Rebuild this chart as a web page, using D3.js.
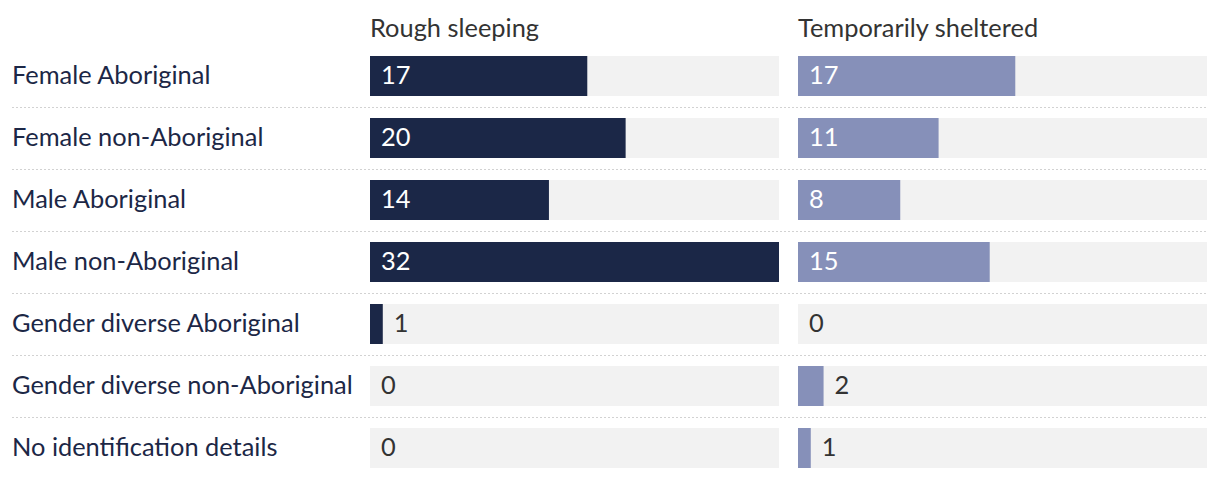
<!DOCTYPE html>
<html><head><meta charset="utf-8">
<script src="https://cdn.jsdelivr.net/npm/d3@7"></script>
<style>
html,body{margin:0;padding:0;background:#fff;}
text{font-family:Lato,"Noto Sans",sans-serif;}
</style></head>
<body>
<svg id="chart" width="1220" height="478"></svg>
<script>
const categories = ["Female Aboriginal","Female non-Aboriginal","Male Aboriginal","Male non-Aboriginal","Gender diverse Aboriginal","Gender diverse non-Aboriginal","No identification details"];
const seriesNames = ["Rough sleeping","Temporarily sheltered"];
const roughSleeping = [17,20,14,32,1,0,0];
const temporarilySheltered = [17,11,8,15,0,2,1];
const seriesValues = [roughSleeping, temporarilySheltered];
const seriesColors = ["#1b2747","#8690b9"];

const svg = d3.select("#chart");
const fontSize = 25.4;
const panelX = [370, 798];
const panelW = 409;
const step = 62, bh = 40, topY = 56;
const y = d3.scaleBand().domain(categories)
  .range([topY - (step-bh)/2, topY - (step-bh)/2 + step*categories.length])
  .paddingInner((step-bh)/step).paddingOuter((step-bh)/step/2);
const x = d3.scaleLinear().domain([0, 32]).range([0, panelW]);

// separators
categories.slice(0, -1).forEach(c => {
  const yy = y(c) + bh + (step-bh)/2 + 0.5;
  svg.append("line").attr("x1",12).attr("x2",1207)
    .attr("y1", yy).attr("y2", yy)
    .attr("stroke","#d2d2d2").attr("stroke-width",1.2).attr("stroke-dasharray","2,2");
});

// category labels
svg.selectAll("text.cat").data(categories).enter().append("text")
  .attr("class","cat").attr("x",12).attr("y",d=>y(d)+bh/2+7.8)
  .attr("fill","#1c2746").attr("font-size",fontSize).text(d=>d);

seriesNames.forEach((name, s) => {
  const g = svg.append("g").attr("transform",`translate(${panelX[s]},0)`);
  g.append("text").attr("x",0).attr("y",37).attr("fill","#333").attr("font-size",fontSize).text(name);
  const vals = seriesValues[s];
  categories.forEach((c,i)=>{
    g.append("rect").attr("x",0).attr("y",y(c)).attr("width",panelW).attr("height",y.bandwidth()).attr("fill","#f2f2f2");
    g.append("rect").attr("x",0).attr("y",y(c)).attr("width",x(vals[i])).attr("height",y.bandwidth()).attr("fill",seriesColors[s]);
    const inside = x(vals[i]) > 40;
    g.append("text").attr("x", inside ? 11 : x(vals[i]) + 11).attr("y", y(c)+bh/2+7.8)
      .attr("fill", inside ? "#fff" : "#333").attr("font-size",fontSize).text(vals[i]);
  });
});
</script>
</body></html>
